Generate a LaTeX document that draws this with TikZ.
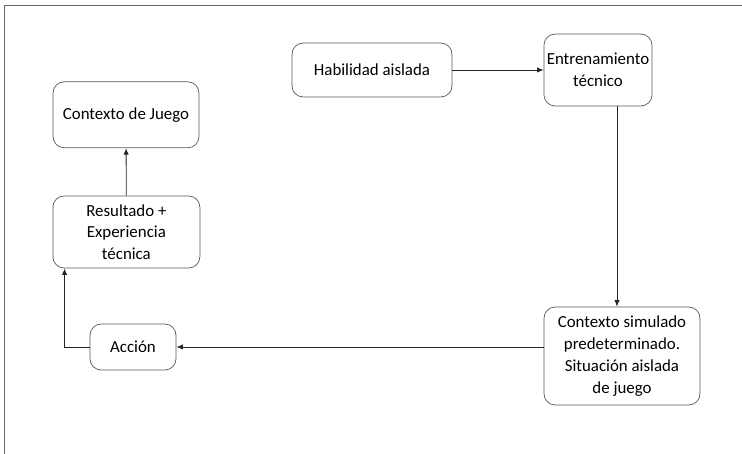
\documentclass[tikz,border=0pt]{standalone}
\usepackage{fontspec}
\setmainfont{Carlito}
\usepackage{tikz}
\usetikzlibrary{arrows.meta,calc}
\tikzstyle{caja}=[draw=black!65, line width=0.5pt, rounded corners=8pt, align=center, font=\fontsize{12}{15.5}\selectfont, inner sep=2pt]
\tikzstyle{flecha}=[line width=0.6pt, black!85, -{Latex[length=1.6mm,width=1.3mm]}]
\tikzstyle{marco}=[line width=0.6pt, black!60]

\begin{document}
\begin{tikzpicture}
	\useasboundingbox (0,0) rectangle (18.55,-11.35);
	\draw[marco] (0.1,-11.35) -- (0.1,-0.125) -- (18.55,-0.125);
	\node[caja, minimum width=4cm, minimum height=1.35cm] (hab) at (9.3,-1.75) {Habilidad aislada};
	\node[caja, minimum width=2.7cm, minimum height=1.8cm] (ent) at (14.95,-1.75) {Entrenamiento\\t\'ecnico};
	\node[caja, minimum width=3.65cm, minimum height=1.65cm] (juego) at (3.15,-2.87) {Contexto de Juego};
	\node[caja, minimum width=3.675cm, minimum height=1.8cm] (res) at (3.16,-5.8) {Resultado +\\Experiencia\\t\'ecnica};
	\node[caja, minimum width=2.15cm, minimum height=1.15cm] (accion) at (3.325,-8.675) {Acci\'on};
	\node[caja, minimum width=3.9cm, minimum height=2.45cm] (sim) at (15.55,-8.9) {Contexto simulado\\predeterminado.\\Situaci\'on aislada\\de juego};
	\draw[flecha] (hab) -- (ent);
	\draw[flecha] ([xshift=0.475cm]ent.south) -- ([xshift=0.475cm]ent.south |- sim.north);
	\draw[flecha] (sim.west |- accion) -- (accion.east);
	\draw[flecha] (accion.west) -| ([xshift=0.3cm]res.south west);
	\draw[flecha] (res) -- (juego);
\end{tikzpicture}
\end{document}
